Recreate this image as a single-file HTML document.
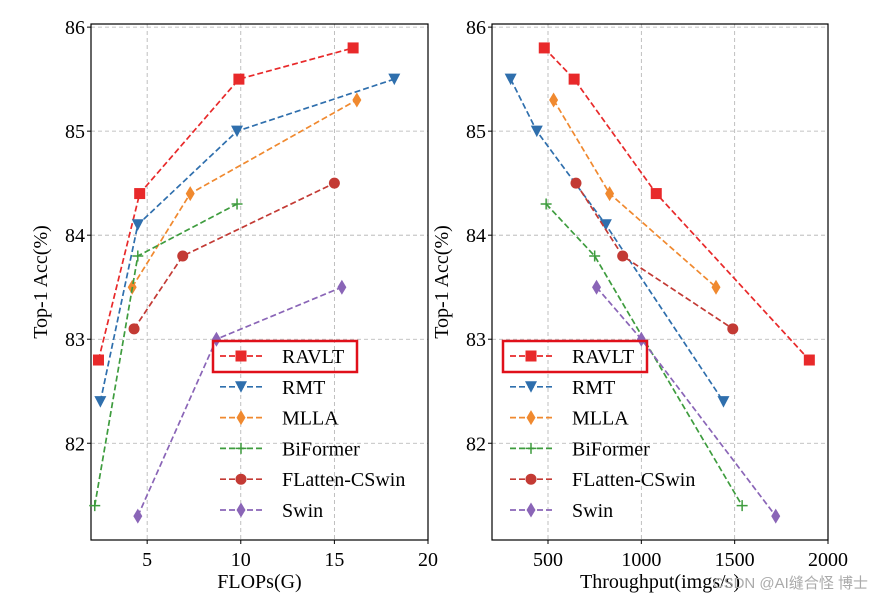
<!DOCTYPE html>
<html><head><meta charset="utf-8"><style>
body{margin:0;background:#fff;}
svg text{font-family:"Liberation Serif",serif;fill:#000;}
</style></head><body>
<svg id="c" width="872" height="599" xmlns="http://www.w3.org/2000/svg"></svg>
<script>
const seriesNames=["RAVLT","RMT","MLLA","BiFormer","FLatten-CSwin","Swin"];
const colors=["#e8292a","#2f6fad","#f0892f","#3e9c3e","#c33a34","#8a65b7"];
const markers=["s","v","d","+","o","d"];
const flopsX=[[2.4,4.6,9.9,16],[2.5,4.5,9.8,18.2],[4.2,7.3,16.2],[2.2,4.5,9.8],[4.3,6.9,15.0],[4.5,8.7,15.4]];
const flopsY=[[82.8,84.4,85.5,85.8],[82.4,84.1,85.0,85.5],[83.5,84.4,85.3],[81.4,83.8,84.3],[83.1,83.8,84.5],[81.3,83.0,83.5]];
const thrX=[[480,640,1080,1900],[300,440,810,1440],[530,830,1400],[490,750,1540],[650,900,1490],[760,1000,1720]];
const thrY=[[85.8,85.5,84.4,82.8],[85.5,85.0,84.1,82.4],[85.3,84.4,83.5],[84.3,83.8,81.4],[84.5,83.8,83.1],[83.5,83.0,81.3]];
const yTicks=[82,83,84,85,86];
const leftXTicks=[5,10,15,20];
const rightXTicks=[500,1000,1500,2000];
const NS="http://www.w3.org/2000/svg";
const svg=document.getElementById('c');
function mk(t,a,p){const e=document.createElementNS(NS,t);for(const k in a)e.setAttribute(k,a[k]);(p||svg).appendChild(e);return e;}
function marker(g,type,x,y,col){
 let e;
 if(type==="s")e=mk('rect',{x:x-5.5,y:y-5.5,width:11,height:11,fill:col},g);
 else if(type==="v")e=mk('polygon',{points:`${x-6},${y-5.5} ${x+6},${y-5.5} ${x},${y+6}`,fill:col},g);
 else if(type==="d")e=mk('polygon',{points:`${x},${y-7.5} ${x+4.5},${y} ${x},${y+7.5} ${x-4.5},${y}`,fill:col},g);
 else if(type==="o")e=mk('circle',{cx:x,cy:y,r:5.5,fill:col},g);
 else e=mk('path',{d:`M${x-5.5} ${y}H${x+5.5}M${x} ${y-5.5}V${y+5.5}`,stroke:col,'stroke-width':1.5,fill:'none'},g);
 
 
}
function panel(o){
 const sx=v=>o.x0+(v-o.xmin)/(o.xmax-o.xmin)*(o.x1-o.x0);
 const sy=v=>o.y1-(v-o.ymin)/(o.ymax-o.ymin)*(o.y1-o.y0);
 const g=mk('g',{});
 
 
 o.xt.forEach(t=>{const X=sx(t);
  if(X<o.x1-1)mk('line',{x1:X,x2:X,y1:o.y0,y2:o.y1,stroke:'#b0b0b0','stroke-dasharray':'4,3','stroke-width':0.8},g);
  mk('line',{x1:X,x2:X,y1:o.y1,y2:o.y1+4,stroke:'#000'},g);
  const tx=mk('text',{x:X,y:o.y1+26,'font-size':20,'text-anchor':'middle'},g);tx.textContent=t;
  });
 yTicks.forEach(t=>{const Y=sy(t);
  mk('line',{x1:o.x0,x2:o.x1,y1:Y,y2:Y,stroke:'#b0b0b0','stroke-dasharray':'4,3','stroke-width':0.8},g);
  mk('line',{x1:o.x0-4,x2:o.x0,y1:Y,y2:Y,stroke:'#000'},g);
  const tx=mk('text',{x:o.x0-6,y:Y+7,'font-size':20,'text-anchor':'end'},g);tx.textContent=t;
  });
 mk('rect',{x:o.x0,y:o.y0,width:o.x1-o.x0,height:o.y1-o.y0,fill:'none',stroke:'#000','stroke-width':1.2},g);
 o.X.forEach((xs,i)=>{
  const pts=xs.map((v,j)=>sx(v)+','+sy(o.Y[i][j])).join(' ');
  const l=mk('polyline',{points:pts,fill:'none',stroke:colors[i],'stroke-width':1.7,'stroke-dasharray':'6,3'},g);
  
  
  xs.forEach((v,j)=>marker(g,markers[i],sx(v),sy(o.Y[i][j]),colors[i]));
 });
 const xl=mk('text',{x:(o.x0+o.x1)/2,y:588,'font-size':20,'text-anchor':'middle'},g);xl.textContent=o.xlabel;
 
 const yl=mk('text',{x:0,y:0,'font-size':20,'text-anchor':'middle',transform:`translate(${o.x0-44},${(o.y0+o.y1)/2}) rotate(-90)`},g);yl.textContent='Top-1 Acc(%)';
 
 seriesNames.forEach((n,i)=>{const Y=356+i*30.8;const lx=o.lx;
  const le=mk('g',{},g);
  
  
  mk('line',{x1:lx,x2:lx+42,y1:Y,y2:Y,stroke:colors[i],'stroke-width':1.7,'stroke-dasharray':'6,3'},le);
  marker(le,markers[i],lx+21,Y,colors[i]);
  const t=mk('text',{x:lx+62,y:Y+7,'font-size':20},le);t.textContent=n;});
 const hb=mk('rect',{x:o.lx-7,y:341,width:144,height:31,fill:'none',stroke:'#e0101a','stroke-width':2.5},g);
 
}
panel({name:'flops-panel',x0:91,x1:428,y0:24,y1:540,xmin:2.0,xmax:20,ymin:81.07,ymax:86.03,xt:leftXTicks,X:flopsX,Y:flopsY,xlabel:'FLOPs(G)',lx:220});
panel({name:'throughput-panel',x0:492,x1:828,y0:24,y1:540,xmin:200,xmax:2000,ymin:81.07,ymax:86.03,xt:rightXTicks,X:thrX,Y:thrY,xlabel:'Throughput(imgs/s)',lx:510});
const wm=mk('text',{x:868,y:588,'font-size':15,'text-anchor':'end'});
wm.setAttribute('style','fill:#aaa;font-family:"Liberation Sans","Noto Sans CJK SC",sans-serif');
wm.textContent='CSDN @AI缝合怪 博士';


</script>
</body></html>
